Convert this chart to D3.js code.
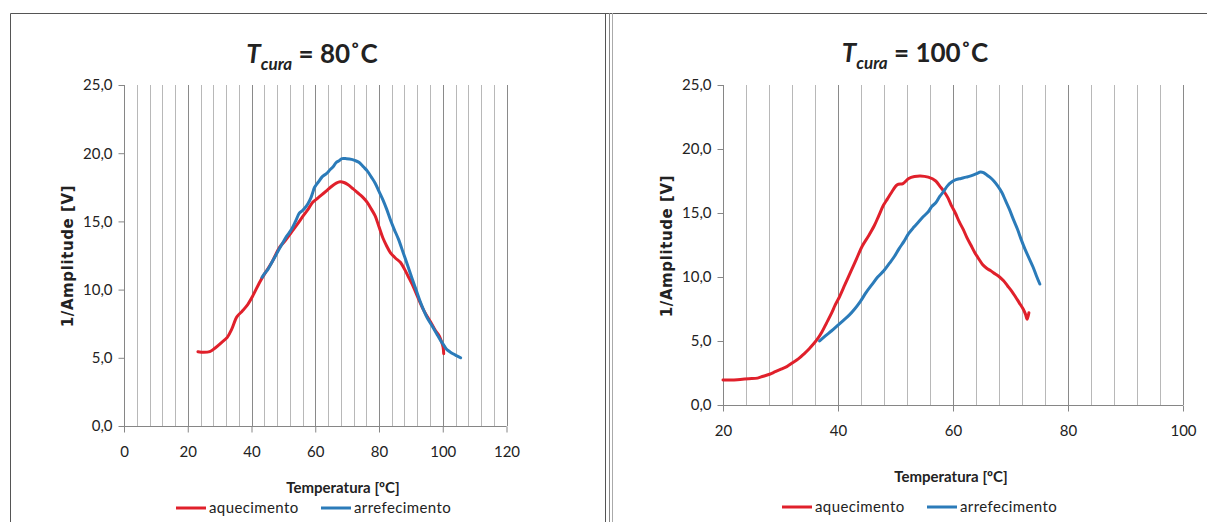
<!DOCTYPE html>
<html><head><meta charset="utf-8">
<script src="https://cdn.jsdelivr.net/npm/d3@7"></script>
<style>
body{margin:0;background:#fff}
svg text{fill:#222}
</style>
</head><body>
<svg id="c" width="1207" height="522"></svg>
<script>
// ---------- data ----------
const seriesNames = ["aquecimento", "arrefecimento"];
const seriesColors = ["#e0202b", "#2b7bb9"];

// T_cura = 80 °C
const aq80T = [23.2,25,26.9,28.5,30.5,32.4,33.8,35.4,37,38.5,40.3,42.7,44.5,46.4,48.8,50.6,52.5,54.4,56.2,57.8,59.2,60.8,62.3,63.8,65.3,66.6,67.8,69,70.2,71.8,73.3,74.8,76.3,77.6,78.8,80,81.2,82.4,83.6,85.2,86.7,88,89.1,90.4,91.6,92.8,94,95.2,96.5,97.7,98.9,99.6,100.1,100.3];
const aq80V = [5.45,5.4,5.45,5.7,6.1,6.5,7.1,8.0,8.4,8.8,9.5,10.6,11.3,12.0,13.1,13.6,14.2,14.8,15.4,15.9,16.4,16.7,17.0,17.3,17.6,17.8,17.9,17.85,17.7,17.4,17.1,16.8,16.4,15.9,15.4,14.6,13.8,13.2,12.7,12.3,12.0,11.5,11.0,10.4,9.75,9.1,8.5,8.0,7.5,7.0,6.6,6.2,5.8,5.3];
const ar80T = [43.3,44.2,45.2,46.4,47.6,48.5,49.5,51,52.5,53.8,55,56,56.8,57.7,58.6,59.2,59.8,61,62.3,63.5,64.7,65.6,66.5,67.5,68.4,69.8,71.4,72.6,73.9,75.1,76.3,77.6,78.8,80,81.2,82.4,83.6,84.8,86.1,87.6,89.1,90.4,91.6,92.8,94,95.2,96.5,98,99.5,100.4,101.3,102.2,103.2,104.4,105.6];
const ar80V = [10.9,11.2,11.5,12.0,12.5,12.9,13.3,13.9,14.4,15.0,15.6,15.8,16.0,16.3,16.7,17.1,17.5,17.9,18.3,18.5,18.8,19.0,19.3,19.45,19.6,19.6,19.55,19.45,19.3,19.0,18.7,18.25,17.8,17.2,16.6,15.9,15.1,14.4,13.7,12.7,11.7,10.8,10.0,9.2,8.5,7.9,7.4,6.8,6.2,5.9,5.6,5.45,5.3,5.15,5.0];

// T_cura = 100 °C
const aq100T = [20,21.5,23,24.5,26,27,28.1,29.1,30.1,31.1,32.1,33.1,34.1,35,35.8,36.5,37.2,38,38.9,39.5,40.2,41.2,42.2,43.2,44.2,45.3,46.3,47.1,47.9,48.6,49.3,50.3,51.3,52.3,53.3,54.3,55.7,57,57.7,58.4,59.1,59.7,60.4,61.1,61.8,62.4,63.1,63.8,64.5,65.1,65.8,66.5,67.3,68.1,68.8,69.5,70.2,70.8,71.5,72.2,72.6,72.9,73.2];
const aq100V = [1.95,1.95,2.0,2.05,2.1,2.25,2.4,2.6,2.8,3.0,3.3,3.6,4.0,4.4,4.8,5.2,5.7,6.4,7.2,7.8,8.4,9.4,10.4,11.4,12.4,13.2,14.0,14.8,15.6,16.1,16.6,17.2,17.3,17.7,17.85,17.9,17.8,17.5,17.1,16.7,16.2,15.6,15.0,14.3,13.7,13.1,12.5,11.9,11.4,11.0,10.7,10.5,10.25,10.0,9.7,9.3,8.9,8.5,8.0,7.5,7.1,6.7,7.2];
const ar100T = [36.8,37.8,38.9,39.9,40.9,41.9,42.9,43.9,44.9,45.9,46.9,48,49,49.8,50.6,51.5,52.3,53.2,54,54.8,55.7,56.3,57,57.7,58.4,59,59.7,60.5,61.4,62.3,63.1,64,64.8,65.3,65.8,66.4,67.1,67.8,68.5,69.1,69.8,70.5,71.2,71.8,72.5,73.2,73.9,74.5,75.1];
const ar100V = [5.0,5.4,5.8,6.2,6.6,7.0,7.5,8.1,8.8,9.4,10.0,10.5,11.1,11.6,12.2,12.8,13.4,13.9,14.3,14.7,15.1,15.5,15.8,16.3,16.7,17.1,17.4,17.6,17.7,17.8,17.9,18.05,18.2,18.15,18.0,17.8,17.5,17.1,16.6,16.0,15.3,14.5,13.75,13.0,12.2,11.5,10.8,10.1,9.45];

const yTicks = [0, 5, 10, 15, 20, 25];
const xTicks80 = [0, 20, 40, 60, 80, 100, 120];
const xTicks100 = [20, 40, 60, 80, 100];
const gridStep = 4;

// ---------- drawing ----------
const svg = d3.select("#c");
const fmt = d => d.toFixed(1).replace(".", ",");
const FONT = "Lato, 'Open Sans', sans-serif";

// frames
svg.append("path").attr("d","M10.5,522 V13.5 H1207").attr("fill","none").attr("stroke","#555").attr("stroke-width",1);
svg.append("line").attr("x1",605.5).attr("x2",605.5).attr("y1",13).attr("y2",522).attr("stroke","#555");
svg.append("line").attr("x1",609.5).attr("x2",609.5).attr("y1",13).attr("y2",522).attr("stroke","#888");
svg.append("line").attr("x1",612.5).attr("x2",612.5).attr("y1",13).attr("y2",522).attr("stroke","#aaa");

function panel(cfg) {
  const g = svg.append("g");
  const x = d3.scaleLinear().domain(cfg.xDomain).range([cfg.left, cfg.right]);
  const y = d3.scaleLinear().domain([0, 25]).range([cfg.bottom, cfg.top]);

  // vertical gridlines
  const grid = d3.range(cfg.xDomain[0] + gridStep, cfg.xDomain[1] + 0.001, gridStep);
  g.selectAll("line.grid").data(grid).join("line")
    .attr("x1", d => Math.round(x(d)) + 0.5).attr("x2", d => Math.round(x(d)) + 0.5)
    .attr("y1", y(25)).attr("y2", y(0))
    .attr("stroke", d => (d % 20 === 0) ? "#8a8a8a" : "#b8b8b8").attr("stroke-width", 1);

  // x axis
  const xa = g.append("g").attr("transform", `translate(0,${Math.round(y(0)) + 0.5})`)
    .call(d3.axisBottom(x).tickValues(cfg.xTicks).tickSize(6).tickPadding(cfg.xPad).tickFormat(d3.format("d")));
  xa.select(".domain").attr("d", `M${cfg.left - 4},0H${cfg.right}`).attr("stroke", "#868686");
  xa.selectAll(".tick line").attr("stroke", "#868686");
  xa.selectAll("text").attr("font-size", 15).attr("fill", "#404040").style("font-family", FONT);

  // y axis
  const ya = g.append("g").attr("transform", `translate(${Math.round(x(cfg.xDomain[0])) + 0.5},0)`)
    .call(d3.axisLeft(y).tickValues(yTicks).tickSize(6).tickPadding(6).tickFormat(fmt));
  ya.select(".domain").attr("d", `M0,${y(25)}V${y(0)}`).attr("stroke", "#868686");
  ya.selectAll(".tick line").attr("stroke", "#868686");
  ya.selectAll("text").attr("font-size", 15).attr("fill", "#404040").style("font-family", FONT);

  // series
  const line = d3.line().x(d => x(d[0])).y(d => y(d[1])).curve(d3.curveCatmullRom.alpha(0.5));
  cfg.series.forEach((s, i) => {
    const pts = s.t.map((t, k) => [t, s.v[k]]);
    g.append("path").datum(pts).attr("d", line).attr("fill", "none")
      .attr("stroke", seriesColors[i]).attr("stroke-width", 3).attr("stroke-linejoin", "round").attr("stroke-linecap", "round");
  });

  // title
  const t = g.append("text").attr("x", cfg.titleX).attr("y", cfg.titleY).attr("text-anchor", "middle")
    .style("font-family", FONT).attr("font-weight", "bold").attr("font-size", 26).attr("fill", "#111");
  t.append("tspan").attr("font-style", "italic").text("T");
  t.append("tspan").attr("font-style", "italic").attr("font-size", 17).attr("dy", 7).text("cura");
  t.append("tspan").attr("dy", -7).text(" = " + cfg.titleVal + "˚C");

  // axis titles
  g.append("text").attr("x", cfg.xTitleX).attr("y", cfg.xTitleY).attr("text-anchor", "middle")
    .style("font-family", FONT).attr("font-size", 15).attr("font-weight", "bold").attr("fill", "#222").text("Temperatura [ºC]");
  g.append("text").attr("transform", `translate(${cfg.yTitleX},${cfg.yTitleY}) rotate(-90)`).attr("text-anchor", "middle")
    .style("font-family", "'DejaVu Sans', Verdana, sans-serif").attr("font-size", 15).attr("font-weight", "bold")
    .attr("letter-spacing", 0.6).attr("fill", "#111").text("1/Amplitude [V]");

  // legend
  cfg.legend.forEach((lx, i) => {
    g.append("line").attr("x1", lx).attr("x2", lx + 30).attr("y1", cfg.legendY).attr("y2", cfg.legendY)
      .attr("stroke", seriesColors[i]).attr("stroke-width", 3);
    g.append("text").attr("x", lx + 33).attr("y", cfg.legendY + 5).style("font-family", FONT)
      .attr("font-size", 15).attr("letter-spacing", 0.4).attr("fill", "#222").text(seriesNames[i]);
  });
}

panel({
  xDomain: [0, 120], xTicks: xTicks80, left: 124, right: 506.5, top: 85, bottom: 426, xPad: 14,
  series: [{t: aq80T, v: aq80V}, {t: ar80T, v: ar80V}],
  titleX: 312, titleY: 63, titleVal: "80",
  xTitleX: 343, xTitleY: 493, yTitleX: 73, yTitleY: 256,
  legend: [176, 321], legendY: 508
});
panel({
  xDomain: [20, 100], xTicks: xTicks100, left: 723, right: 1183, top: 85, bottom: 405, xPad: 14,
  series: [{t: aq100T, v: aq100V}, {t: ar100T, v: ar100V}],
  titleX: 915, titleY: 62, titleVal: "100",
  xTitleX: 951, xTitleY: 482, yTitleX: 672, yTitleY: 246,
  legend: [782, 927], legendY: 507
});
</script>
</body></html>
